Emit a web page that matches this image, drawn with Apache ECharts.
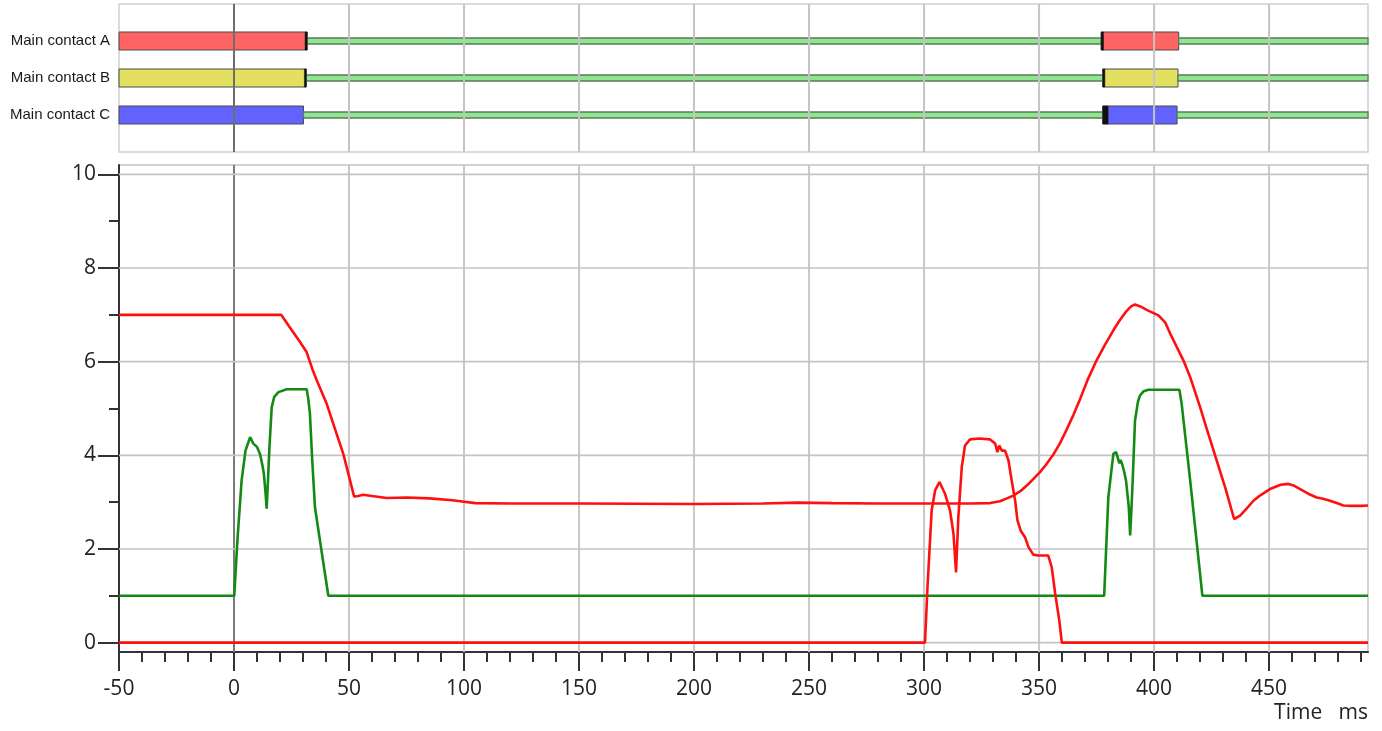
<!DOCTYPE html>
<html>
<head>
<meta charset="utf-8">
<script src="https://cdn.jsdelivr.net/npm/echarts@6/dist/echarts.min.js"></script>
<style>
html,body{margin:0;padding:0;background:#fff;}
#chart{width:1382px;height:731px;}
</style>
</head>
<body>
<div id="chart"></div>
<script>
// ---------- data ----------
const contactNames = ['Main contact A', 'Main contact B', 'Main contact C'];
// closed (contact made) intervals [start ms, end ms]
const closedA = [[-50, 31.8], [377.0, 410.7]];
const closedB = [[-50, 31.4], [377.7, 410.4]];
const closedC = [[-50, 30.2], [377.7, 410.0]];
// open intervals (green)
const openA = [[31.8, 377.0], [410.7, 493]];
const openB = [[31.4, 377.7], [410.4, 493]];
const openC = [[30.2, 377.7], [410.0, 493]];
// transition (black) marks
const arcA = [[30.9, 31.8], [377.0, 378.0]];
const arcB = [[30.6, 31.4], [377.7, 378.6]];
const arcC = [[377.7, 380.0]];

const xTicks = [-50, 0, 50, 100, 150, 200, 250, 300, 350, 400, 450];
const xMinorTicks = [-40, -30, -20, -10, 10, 20, 30, 40, 60, 70, 80, 90, 110, 120, 130, 140,
  160, 170, 180, 190, 210, 220, 230, 240, 260, 270, 280, 290, 310, 320, 330, 340,
  360, 370, 380, 390, 410, 420, 430, 440, 460, 470, 480, 490];
const yTicks = [0, 2, 4, 6, 8, 10];
const yMinorTicks = [1, 3, 5, 7, 9];
const xGridLines = [0, 50, 100, 150, 200, 250, 300, 350, 400, 450];

// red trace 1
const redTrace1 = [[-50, 7.0], [20.5, 7.0], [24, 6.75], [28.7, 6.42], [31.6, 6.2], [34, 5.85], [36, 5.6],
  [40.3, 5.1], [44, 4.55], [47.5, 4.03], [50, 3.55], [52.2, 3.12], [54, 3.13], [56.2, 3.16], [60, 3.13],
  [66.4, 3.09], [75, 3.1], [85, 3.08], [95, 3.04], [100, 3.01], [105, 2.98], [120, 2.97], [150, 2.97],
  [200, 2.96], [230, 2.97], [245, 2.99], [260, 2.98], [280, 2.97], [300, 2.97], [320, 2.97], [328.7, 2.98],
  [333, 3.02], [336, 3.08], [338.8, 3.14], [342, 3.24], [345, 3.37], [348, 3.52], [350.4, 3.64], [353, 3.8],
  [356, 4.0], [359, 4.25], [362, 4.55], [365, 4.87], [367.8, 5.2], [371, 5.6], [375, 6.03], [378.5, 6.35],
  [382.3, 6.67], [385, 6.88], [388, 7.08], [390, 7.18], [391.7, 7.22], [394, 7.18], [397, 7.1],
  [401.9, 6.99], [404.8, 6.84], [407, 6.6], [409.9, 6.31], [413, 6.0], [415.7, 5.67], [420, 5.03], [423, 4.55],
  [427.2, 3.89], [431, 3.3], [434.8, 2.64], [437.4, 2.71], [440, 2.85], [443.2, 3.03], [446, 3.14],
  [450.4, 3.28], [455, 3.37], [458.4, 3.39], [461, 3.35], [463.5, 3.28], [467, 3.18], [470.7, 3.1],
  [473, 3.08], [476.5, 3.03], [480, 2.97], [482.3, 2.93], [486, 2.92], [490, 2.92], [493, 2.93]];

// red trace 2
const redTrace2 = [[-50, 0], [300.4, 0], [301.5, 1.2], [303.3, 2.82], [304.8, 3.25], [306.7, 3.43],
  [309.1, 3.18], [311.3, 2.82], [312.8, 2.32], [313.9, 1.5], [314.9, 2.68], [316.4, 3.75], [317.8, 4.21],
  [320, 4.34], [324, 4.36], [328.7, 4.34], [330.9, 4.25], [331.9, 4.07], [332.7, 4.21], [333.8, 4.1],
  [335.2, 4.1], [336.7, 3.89], [338.1, 3.46], [339.6, 3.03], [340.6, 2.61], [342, 2.39], [343.9, 2.25],
  [345.4, 2.04], [347.5, 1.88], [349.7, 1.86], [354, 1.86], [355.5, 1.61], [357, 1.05], [358.8, 0.47],
  [359.9, 0], [493, 0]];

// green trace
const greenTrace = [[-50, 1], [0.1, 1], [1.5, 2.2], [3.3, 3.46], [5, 4.1], [7, 4.39], [8.4, 4.25],
  [10, 4.18], [11.3, 4.03], [12.3, 3.8], [13, 3.6], [13.7, 3.2], [14.2, 2.86], [14.8, 3.5], [15.4, 4.17],
  [16.4, 5.03], [17.5, 5.25], [19.3, 5.35], [22.9, 5.41], [31.6, 5.41], [32.3, 5.2], [33, 4.89], [34, 3.9],
  [35.2, 2.89], [37, 2.3], [41, 1], [378.3, 1], [380.1, 3.1], [382.3, 4.03], [383.5, 4.07],
  [384.9, 3.83], [385.3, 3.9], [385.9, 3.85], [387, 3.65], [387.8, 3.46], [389, 2.9], [389.6, 2.29],
  [390.2, 2.9], [390.7, 3.46], [391.7, 4.74], [393, 5.15], [393.9, 5.28], [395.5, 5.37], [397.5, 5.4],
  [411, 5.4], [412, 5.1], [412.8, 4.74], [415.7, 3.46], [421, 1], [493, 1]];

// ---------- build ----------
const closedSets = [closedA, closedB, closedC];
const openSets = [openA, openB, openC];
const arcSets = [arcA, arcB, arcC];
const contactData = [];
openSets.forEach((set, row) => set.forEach(s => contactData.push([s[0], s[1], row + 1, 1])));
closedSets.forEach((set, row) => set.forEach(s => contactData.push([s[0], s[1], row + 1, 0])));
arcSets.forEach((set, row) => set.forEach(s => contactData.push([s[0], s[1], row + 1, 2])));

const barColors = ['#ff6464', '#e3df60', '#6262ff'];

function renderContact(params, api) {
  const kind = api.value(3);
  const row = api.value(2);
  const p0 = api.coord([api.value(0), row]);
  const p1 = api.coord([api.value(1), row]);
  const h = kind === 1 ? 6 : 18;
  const cs = params.coordSys;
  const rect = echarts.graphic.clipRectByRect(
    { x: p0[0], y: p0[1] - h / 2, width: Math.max(p1[0] - p0[0], 1), height: h },
    { x: cs.x, y: cs.y, width: cs.width, height: cs.height }
  );
  if (!rect) return;
  let style;
  if (kind === 0) style = { fill: barColors[row - 1], stroke: '#4a4a4a', lineWidth: 1 };
  else if (kind === 1) style = { fill: '#8ee68e', stroke: '#5e7a5e', lineWidth: 1.3 };
  else style = { fill: '#111', stroke: '#111', lineWidth: 0.5 };
  return { type: 'rect', shape: rect, style: style, z2: kind };
}

// grid lines: [x, y, orientation] orientation 0 = vertical at x, 1 = horizontal at y
function gridLineData(xs, ys) {
  return xs.map(v => [v, 1, 0]).concat(ys.map(v => [0, v, 1]));
}
function makeGridRenderer(zeroColor, color, hColor) {
  return function (params, api) {
    const cs = params.coordSys;
    const orient = api.value(2);
    if (orient === 0) {
      const xv = api.value(0);
      const x = api.coord([xv, api.value(1)])[0];
      return { type: 'line', shape: { x1: x, y1: cs.y, x2: x, y2: cs.y + cs.height },
        style: { stroke: xv === 0 ? zeroColor : color, lineWidth: 2 } };
    }
    const y = api.coord([api.value(0), api.value(1)])[1];
    return { type: 'line', shape: { x1: cs.x, y1: y, x2: cs.x + cs.width, y2: y },
      style: { stroke: hColor, lineWidth: 1.6 } };
  };
}

const FONT = '"Open Sans", "Noto Sans", sans-serif';

const option = {
  animation: false,
  backgroundColor: '#fff',
  grid: [
    { left: 119, top: 4, width: 1249, height: 148, show: true, borderColor: '#d0d0d0', borderWidth: 1.5, backgroundColor: 'transparent', outerBoundsMode: 'none' },
    { left: 119, top: 165, width: 1249, height: 487, show: true, borderColor: '#d2d2d2', borderWidth: 2, backgroundColor: 'transparent', outerBoundsMode: 'none' }
  ],
  xAxis: [
    { type: 'value', gridIndex: 0, min: -50, max: 493, interval: 50,
      axisLine: { show: false }, axisTick: { show: false }, axisLabel: { show: false }, splitLine: { show: false } },
    { type: 'value', gridIndex: 1, min: -50, max: 493, interval: 50,
      axisLine: { show: true, onZero: false, lineStyle: { color: '#333', width: 2 } },
      axisTick: { show: true, customValues: xTicks, length: 19, lineStyle: { color: '#333', width: 2 } },
      axisLabel: { show: true, customValues: xTicks, margin: 27, fontSize: 21, color: '#222', fontFamily: FONT },
      splitLine: { show: false } },
    { type: 'value', gridIndex: 1, min: -50, max: 493, interval: 50, position: 'bottom',
      axisLine: { show: false, onZero: false },
      axisTick: { show: true, customValues: xMinorTicks, length: 10, lineStyle: { color: '#333', width: 2 } },
      axisLabel: { show: false }, splitLine: { show: false } }
  ],
  yAxis: [
    { type: 'value', gridIndex: 0, min: 0, max: 4, inverse: true,
      axisLine: { show: false }, axisTick: { show: false },
      axisLabel: { show: true, customValues: [1, 2, 3], margin: 9, fontSize: 15, color: '#1a1a1a',
        fontFamily: '"Liberation Sans", Arial, sans-serif',
        formatter: v => contactNames[Math.round(v) - 1] || '' },
      splitLine: { show: false } },
    { type: 'value', gridIndex: 1, min: -0.2, max: 10.2,
      axisLine: { show: true, onZero: false, lineStyle: { color: '#333', width: 2 } },
      axisTick: { show: true, customValues: yTicks, length: 21, lineStyle: { color: '#333', width: 2 } },
      axisLabel: { show: true, customValues: yTicks, margin: 23, fontSize: 21, color: '#222', fontFamily: FONT },
      splitLine: { show: false } },
    { type: 'value', gridIndex: 1, min: -0.2, max: 10.2, position: 'left',
      axisLine: { show: false, onZero: false },
      axisTick: { show: true, customValues: yMinorTicks, length: 10, lineStyle: { color: '#333', width: 2 } },
      axisLabel: { show: false }, splitLine: { show: false } }
  ],
  graphic: [
    { type: 'text', right: 14, top: 703, style: { text: 'Time   ms', font: '21px ' + FONT, fill: '#222' } }
  ],
  series: [
    { type: 'custom', name: 'contacts', xAxisIndex: 0, yAxisIndex: 0, renderItem: renderContact,
      data: contactData, encode: { x: [0, 1], y: 2 }, z: 2, silent: true },
    { type: 'custom', name: 'top grid', xAxisIndex: 0, yAxisIndex: 0, z: 3, silent: true,
      renderItem: makeGridRenderer('#6e6e6e', '#c4c4c4', '#c4c4c4'),
      data: gridLineData(xGridLines, []), encode: { x: 0, y: 1 } },
    { type: 'custom', name: 'main grid', xAxisIndex: 1, yAxisIndex: 1, z: 1, silent: true,
      renderItem: makeGridRenderer('#7a7a7a', '#c8c8c8', '#c4c4c4'),
      data: gridLineData(xGridLines, yTicks), encode: { x: 0, y: 1 } },
    { type: 'line', name: 'green', xAxisIndex: 1, yAxisIndex: 1, data: greenTrace, showSymbol: false, z: 3,
      lineStyle: { color: '#138a13', width: 2.6 }, itemStyle: { color: '#138a13' } },
    { type: 'line', name: 'red 2', xAxisIndex: 1, yAxisIndex: 1, data: redTrace2, showSymbol: false, z: 4,
      lineStyle: { color: '#ff1010', width: 2.6 }, itemStyle: { color: '#ff1010' } },
    { type: 'line', name: 'red 1', xAxisIndex: 1, yAxisIndex: 1, data: redTrace1, showSymbol: false, z: 4,
      lineStyle: { color: '#ff1010', width: 2.6 }, itemStyle: { color: '#ff1010' } }
  ]
};

const chart = echarts.init(document.getElementById('chart'), null, { renderer: 'canvas' });
chart.setOption(option);
</script>
</body>
</html>
